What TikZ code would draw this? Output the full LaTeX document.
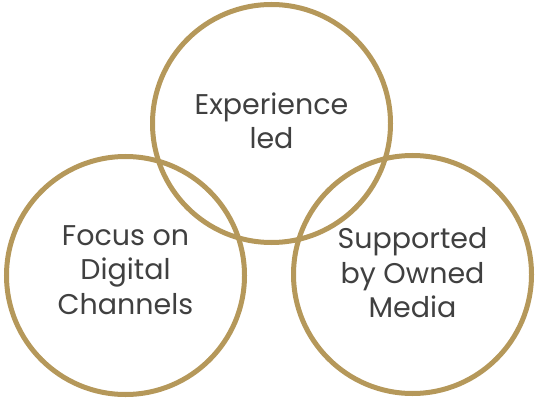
\documentclass[tikz,border=0pt]{standalone}
\usepackage{fontspec}
\setmainfont{Poppins}
\definecolor{gold}{HTML}{B5985A}
\definecolor{txt}{HTML}{404040}
\begin{document}
\begin{tikzpicture}[x=1pt,y=-1pt,
  ring/.style={circle,draw=gold,line width=5pt,minimum size=238pt,inner sep=0pt},
  lbl/.style={align=center,text=txt,font=\fontsize{28.5}{34.5}\selectfont}]
\useasboundingbox (0,0) rectangle (535,398);
\node[ring] (top) at (271.5,123.5) {};
\node[ring] (left) at (125.5,275.5) {};
\node[ring] (right) at (412.5,274.5) {};
\node[lbl] (tt) at (271.5,121) {Experience\\led};
\node[lbl] (lt) at (125.5,270) {Focus on\\Digital\\Channels};
\node[lbl] (rt) at (412.5,273) {Supported\\by Owned\\Media};
\end{tikzpicture}
\end{document}
